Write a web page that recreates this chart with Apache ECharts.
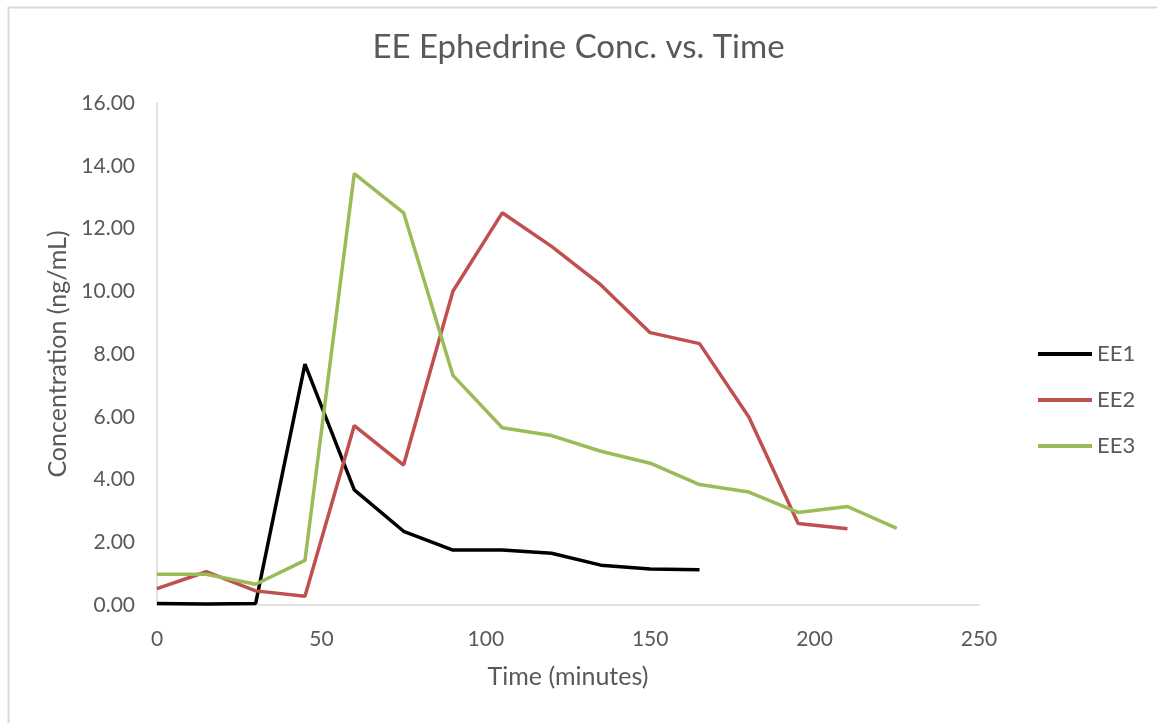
<!DOCTYPE html>
<html>
<head>
<meta charset="utf-8">
<title>EE Ephedrine Conc. vs. Time</title>
<script src="https://cdn.jsdelivr.net/npm/echarts@6/dist/echarts.min.js"></script>
<style>
  html, body { margin: 0; padding: 0; background: #fff; }
  #chart { width: 1157px; height: 723px; }
</style>
</head>
<body>
<div id="chart"></div>
<script>
// sampling times (minutes)
const times = [0, 15, 30, 45, 60, 75, 90, 105, 120, 135, 150, 165, 180, 195, 210, 225];

// concentration (ng/mL)
const ee1 = [0.05, 0.03, 0.05, 7.68, 3.67, 2.35, 1.75, 1.75, 1.65, 1.27, 1.15, 1.12];
const ee2 = [0.52, 1.06, 0.45, 0.28, 5.72, 4.46, 10.0, 12.5, 11.43, 10.2, 8.68, 8.33, 5.99, 2.6, 2.43];
const ee3 = [0.98, 0.98, 0.66, 1.42, 13.75, 12.5, 7.32, 5.65, 5.4, 4.9, 4.52, 3.84, 3.6, 2.95, 3.14, 2.44];

const seriesNames = ['EE1', 'EE2', 'EE3'];
const seriesColors = ['#000000', '#c0504d', '#9bbb59'];
const seriesValues = [ee1, ee2, ee3];

const textColor = '#595959';
const font = 'Lato, "Open Sans", sans-serif';

const chart = echarts.init(document.getElementById('chart'));

const option = {
  backgroundColor: '#ffffff',
  animation: false,
  title: {
    text: 'EE Ephedrine Conc. vs. Time',
    left: 'center',
    top: 31,
    padding: 0,
    textStyle: { color: textColor, fontFamily: font, fontSize: 33, fontWeight: 'normal' }
  },
  graphic: [{
    type: 'rect',
    left: 6, top: 5,
    shape: { width: 1300, height: 900 },
    style: { fill: 'none', stroke: '#d9d9d9', lineWidth: 2 },
    silent: true
  }],
  legend: {
    orient: 'vertical',
    left: 1038,
    top: 343,
    padding: 0,
    itemWidth: 54,
    itemHeight: 4,
    itemGap: 24,
    icon: 'rect',
    data: seriesNames,
    textStyle: { color: textColor, fontFamily: font, fontSize: 22, lineHeight: 22 }
  },
  grid: { left: 157, right: 178, top: 103, bottom: 118 },
  xAxis: {
    type: 'value',
    min: 0, max: 250, interval: 50,
    name: 'Time (minutes)',
    nameLocation: 'middle',
    nameGap: 59,
    nameTextStyle: { color: textColor, fontFamily: font, fontSize: 25 },
    axisLine: { show: true, lineStyle: { color: '#d9d9d9', width: 1.5 } },
    axisTick: { show: false },
    splitLine: { show: false },
    axisLabel: { color: textColor, fontFamily: font, fontSize: 21, margin: 24 }
  },
  yAxis: {
    type: 'value',
    min: 0, max: 16, interval: 2,
    name: 'Concentration (ng/mL)',
    nameLocation: 'middle',
    nameGap: 84,
    nameTextStyle: { color: textColor, fontFamily: font, fontSize: 25 },
    axisLine: { show: true, lineStyle: { color: '#d9d9d9', width: 1.5 } },
    axisTick: { show: false },
    splitLine: { show: false },
    axisLabel: {
      color: textColor, fontFamily: font, fontSize: 21, margin: 22,
      formatter: v => v.toFixed(2)
    }
  },
  series: seriesNames.map((name, i) => ({
    name: name,
    type: 'line',
    showSymbol: false,
    symbol: 'none',
    color: seriesColors[i],
    lineStyle: { color: seriesColors[i], width: 3.5 },
    data: seriesValues[i].map((v, j) => [times[j], v])
  }))
};

chart.setOption(option);
</script>
</body>
</html>
